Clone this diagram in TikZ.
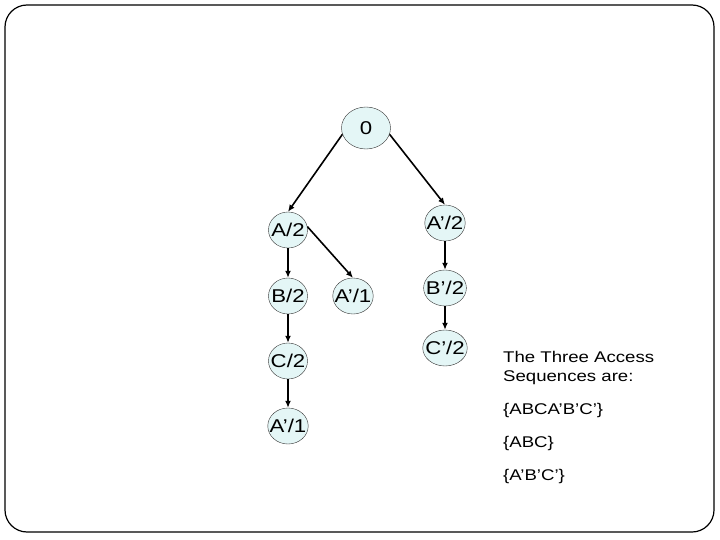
\documentclass[tikz,border=0pt]{standalone}
\usepackage{fontspec}
\setmainfont{Liberation Sans}[FakeStretch=1.2]
\usetikzlibrary{arrows.meta,shapes.geometric}
\definecolor{nodefill}{RGB}{228,246,246}
\begin{document}
\begin{tikzpicture}[x=1pt,y=-1pt]
        \useasboundingbox (0,0) rectangle (720,540);
        \draw[line width=1.2pt,rounded corners=22pt] (5,5) rectangle (714,532);
        \begin{scope}[every node/.style={ellipse,draw=black!80,fill=nodefill,minimum width=39pt,minimum height=36pt,inner sep=-4pt,font=\fontsize{18.5}{20}\selectfont}]
        \node (r) at (366,128) [minimum width=49pt,minimum height=42pt] {0};
        \node (a) at (288,230) {A/2};
        \node (b) at (288,296) {B/2};
        \node (c) at (288,361) {C/2};
        \node (d) at (288,426) {A’/1};
        \node (e) at (353,296) {A’/1};
        \node (f) at (445,223) {A’/2};
        \node (g) at (445,288) {B’/2};
        \node (h) at (445,348) {C’/2};
        \end{scope}
        \begin{scope}[every edge/.style={draw=black,line width=1.6pt,-{Latex[length=7pt,width=6pt]}}]
        \path (r.195) edge (a.north)
              (r.-15) edge (f.north)
              (a.10) edge (e.north)
              (a) edge (b)
              (b) edge (c)
              (c) edge (d)
              (f) edge (g)
              (g) edge (h);
        \end{scope}
        \begin{scope}[every node/.style={anchor=west,inner sep=0pt,font=\fontsize{15.5}{18}\selectfont}]
        \node (t1) at (503,357) {The Three Access};
        \node (t2) at (503,378) {Sequences are:};
        \node (s1) at (503,410) {\{ABCA’B’C’\}};
        \node (s2) at (503,443) {\{ABC\}};
        \node (s3) at (503,476) {\{A’B’C’\}};
        \end{scope}
\end{tikzpicture}
\end{document}
